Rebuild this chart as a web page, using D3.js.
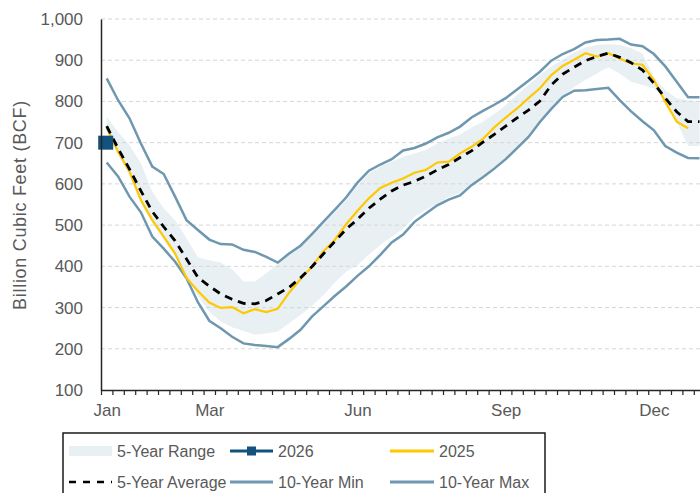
<!DOCTYPE html>
<html><head><meta charset="utf-8">
<script src="https://cdn.jsdelivr.net/npm/d3@7/dist/d3.min.js"></script>
<style>body{margin:0;background:#fff}svg{display:block}text{font-family:"Liberation Sans",Arial,sans-serif;fill:#595959}</style>
</head><body>
<script>
// ---- data ----
const weeks = d3.range(53);
const monthLabels = ["Jan","Mar","Jun","Sep","Dec"];
const monthWeeks = [0,9,22,35,48];
const yTicks = [100,200,300,400,500,600,700,800,900,1000];
const max10 = [856,803,759,698,642,624,569,512,488,465,454,453,440,435,423,409,431,450,478,508,537,567,603,632,647,660,681,687,698,713,724,739,761,777,792,808,829,850,872,899,915,927,943,949,950,952,938,934,915,885,848,810,810];
const min10 = [652,618,569,531,472,443,411,371,313,268,250,229,213,209,207,204,224,246,278,303,328,351,377,400,428,458,477,508,528,548,562,572,597,616,637,660,687,714,750,782,811,826,827,830,833,803,776,752,730,692,676,663,662];
const range5Low = [728,670,620,553,505,465,425,372,328,290,266,252,243,234,237,242,262,282,304,330,360,387,403,428,452,472,491,520,537,551,568,578,600,618,640,663,690,717,752,784,812,835,852,868,883,868,848,840,832,803,750,692,692];
const range5High = [763,726,694,650,581,541,512,468,422,415,409,393,363,363,383,407,431,450,475,502,530,560,595,625,642,654,666,674,682,698,710,720,737,751,770,791,816,840,864,885,902,919,931,937,939,937,929,917,860,828,808,803,800];
const avg5 = [740,686,636,583,533,496,462,418,373,352,333,320,310,309,317,333,349,372,399,430,460,490,514,541,563,583,597,606,619,634,647,664,680,701,720,740,760,779,801,840,866,883,899,909,917,907,894,876,844,808,775,751,751];
const y2025 = [737,678,630,561,512,472,431,372,340,312,299,301,286,296,289,297,336,369,399,436,464,502,535,565,590,603,613,627,634,652,654,674,690,709,737,761,783,808,832,864,886,901,917,909,917,904,892,889,852,799,751,735];
const y2026 = [700];

// ---- chart ----
const W = 700, H = 493;
const pL = 101, pR = 705.2, pT = 19, pB = 390;
const svg = d3.select("body").append("svg").attr("width", W).attr("height", H);
const x = d3.scalePoint().domain(weeks).range([pL, pR]).padding(0.5);
const xEdge = d3.scaleLinear().domain([0, 53]).range([pL, pR]);
const y = d3.scaleLinear().domain([100, 1000]).range([pB, pT]);
const C_TEN = "#6f98b0", C_2025 = "#ffc800", C_2026 = "#11527e", C_BAND = "#e8f0f3";

// band
svg.append("path").datum(weeks)
  .attr("d", d3.area().x(i => x(i)).y0(i => y(range5Low[i])).y1(i => y(range5High[i])))
  .attr("fill", C_BAND);

// grid
svg.append("g").selectAll("line").data(yTicks.filter(v => v > 100)).join("line")
  .attr("x1", pL).attr("x2", W).attr("y1", d => y(d)).attr("y2", d => y(d))
  .attr("stroke", "#d6d6d6").attr("stroke-width", 1).attr("stroke-dasharray", "4,3");

const line = arr => d3.line().x((d, i) => x(i)).y(d => y(d))(arr);
svg.append("path").attr("d", line(min10)).attr("fill", "none").attr("stroke", C_TEN).attr("stroke-width", 2.5);
svg.append("path").attr("d", line(max10)).attr("fill", "none").attr("stroke", C_TEN).attr("stroke-width", 2.5);
svg.append("path").attr("d", line(y2025)).attr("fill", "none").attr("stroke", C_2025).attr("stroke-width", 2.2);
svg.append("path").attr("d", line(avg5)).attr("fill", "none").attr("stroke", "#000").attr("stroke-width", 2.8).attr("stroke-dasharray", "8,6");

// 2026 marker
svg.append("g").selectAll("rect").data(y2026).join("rect")
  .attr("x", (d, i) => x(i) - 8.5).attr("y", d => y(d) - 7).attr("width", 15).attr("height", 14)
  .attr("fill", C_2026);

// axes
const yAxis = svg.append("g").attr("transform", `translate(${pL},0)`)
  .call(d3.axisLeft(y).tickValues(yTicks).tickSize(0).tickPadding(18).tickFormat(d3.format(",")));
yAxis.select(".domain").attr("stroke", "#262626").attr("stroke-width", 1.5);
yAxis.selectAll("text").style("font-size", "17px").attr("fill", "#595959");

const xTicks = svg.append("g").attr("transform", `translate(0,${pB})`)
  .call(d3.axisBottom(xEdge).tickValues(d3.range(54)).tickSize(5).tickSizeOuter(0).tickFormat(""));
xTicks.select(".domain").attr("stroke", "#262626").attr("stroke-width", 1.5);
xTicks.selectAll(".tick line").attr("stroke", "#262626").attr("stroke-width", 1.2);

const xLab = svg.append("g").attr("transform", `translate(0,${pB})`)
  .call(d3.axisBottom(x).tickValues(monthWeeks).tickSize(0).tickPadding(14).tickFormat((d, i) => monthLabels[i]));
xLab.select(".domain").remove();
xLab.selectAll("text").style("font-size", "17px").attr("fill", "#595959");

svg.append("text").attr("transform", "translate(26,205) rotate(-90)")
  .attr("text-anchor", "middle").style("font-size", "18px").style("letter-spacing", "0.7px")
  .text("Billion Cubic Feet (BCF)");

// legend
const lg = svg.append("g");
lg.append("rect").attr("x", 63).attr("y", 433).attr("width", 482).attr("height", 80)
  .attr("fill", "#fff").attr("stroke", "#1a1a1a").attr("stroke-width", 1.5);
const r1 = 451, r2 = 482;
lg.append("rect").attr("x", 69).attr("y", r1 - 5).attr("width", 43).attr("height", 10).attr("fill", C_BAND);
lg.append("line").attr("x1", 230).attr("x2", 273).attr("y1", r1).attr("y2", r1).attr("stroke", C_2026).attr("stroke-width", 3);
lg.append("rect").attr("x", 247).attr("y", r1 - 4.5).attr("width", 9).attr("height", 9).attr("fill", C_2026);
lg.append("line").attr("x1", 390).attr("x2", 434).attr("y1", r1).attr("y2", r1).attr("stroke", C_2025).attr("stroke-width", 3);
lg.append("line").attr("x1", 69).attr("x2", 112).attr("y1", r2).attr("y2", r2).attr("stroke", "#000").attr("stroke-width", 2.5).attr("stroke-dasharray", "7,7");
lg.append("line").attr("x1", 230).attr("x2", 273).attr("y1", r2).attr("y2", r2).attr("stroke", C_TEN).attr("stroke-width", 3);
lg.append("line").attr("x1", 390).attr("x2", 434).attr("y1", r2).attr("y2", r2).attr("stroke", C_TEN).attr("stroke-width", 3);
const legendItems = [["5-Year Range",117,r1],["2026",278,r1],["2025",439,r1],["5-Year Average",117,r2],["10-Year Min",278,r2],["10-Year Max",439,r2]];
lg.selectAll("text.l").data(legendItems).join("text").attr("class","l")
  .attr("x", d => d[1]).attr("y", d => d[2] + 6).style("font-size", "16px").text(d => d[0]);
</script>
</body></html>
